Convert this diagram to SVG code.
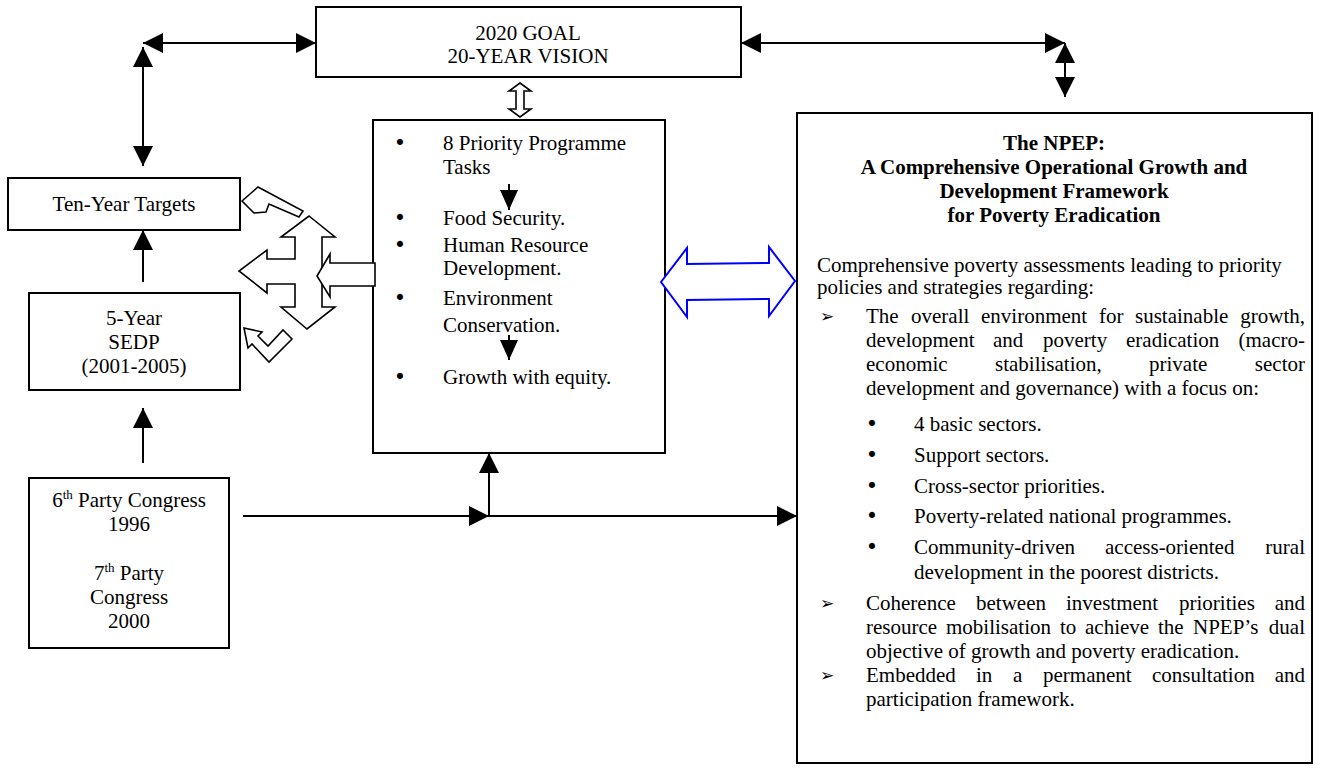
<svg xmlns="http://www.w3.org/2000/svg" width="1321" height="768" viewBox="0 0 1321 768">
<defs>
<style>
.box{fill:#fff;stroke:#000;stroke-width:2}
.t{font-family:"Liberation Serif","Times New Roman",serif;font-size:21px;fill:#000}
.c{text-anchor:middle}
.e{text-anchor:end}
.b{font-weight:bold}
.ln{stroke:#000;stroke-width:2;fill:none}
.hol{fill:#fff;stroke:#000;stroke-width:1.6;stroke-linejoin:miter}
.sym{font-family:"DejaVu Sans",sans-serif;font-size:17px;fill:#000}
.bul{font-family:"DejaVu Sans",sans-serif;font-size:21px;fill:#000;text-anchor:middle}
</style>
<marker id="ah" viewBox="0 0 20 20" refX="20" refY="10" markerWidth="20" markerHeight="20" markerUnits="userSpaceOnUse" orient="auto-start-reverse">
<path d="M0,0 L20,10 L0,20 z" fill="#000"/>
</marker>
<marker id="ahs" viewBox="0 0 20 18" refX="20" refY="9" markerWidth="20" markerHeight="18" markerUnits="userSpaceOnUse" orient="auto">
<path d="M0,0 L20,9 L0,18 z" fill="#000"/>
</marker>
</defs>
<rect width="1321" height="768" fill="#fff"/>

<g id="goal">
<rect class="box" x="316" y="7" width="425" height="70"/>
<text class="t c" x="528" y="40">2020 GOAL</text>
<text class="t c" x="528" y="63">20-YEAR VISION</text>
</g>

<g id="ten-year">
<rect class="box" x="8" y="178" width="232" height="52"/>
<text class="t c" x="124" y="211">Ten-Year Targets</text>
</g>

<g id="five-year">
<rect class="box" x="29" y="293" width="211" height="97"/>
<text class="t c" x="134" y="325">5-Year</text>
<text class="t c" x="134" y="349">SEDP</text>
<text class="t c" x="134" y="373">(2001-2005)</text>
</g>

<g id="congress">
<rect class="box" x="29" y="478" width="200" height="170"/>
<text class="t c" x="129" y="507">6<tspan font-size="13" dy="-8">th</tspan><tspan dy="8"> Party Congress</tspan></text>
<text class="t c" x="129" y="531">1996</text>
<text class="t c" x="129" y="580">7<tspan font-size="13" dy="-8">th</tspan><tspan dy="8"> Party</tspan></text>
<text class="t c" x="129" y="604">Congress</text>
<text class="t c" x="129" y="628">2000</text>
</g>

<g id="priority">
<rect class="box" x="373" y="120" width="292" height="333"/>
<text class="bul" x="400" y="150">•</text>
<text class="bul" x="400" y="225">•</text>
<text class="bul" x="400" y="252">•</text>
<text class="bul" x="400" y="305">•</text>
<text class="bul" x="400" y="384">•</text>
<g class="t">
<text x="443" y="150">8 Priority Programme</text>
<text x="443" y="174">Tasks</text>
<text x="443" y="225">Food Security.</text>
<text x="443" y="252">Human Resource</text>
<text x="443" y="275">Development.</text>
<text x="443" y="305">Environment</text>
<text x="443" y="332">Conservation.</text>
<text x="443" y="384">Growth with equity.</text>
</g>
<line class="ln" x1="509" y1="184" x2="509" y2="210" marker-end="url(#ahs)"/>
<line class="ln" x1="509" y1="335" x2="509" y2="360" marker-end="url(#ahs)"/>
</g>

<g id="npep">
<rect class="box" x="797" y="113" width="515" height="650"/>
<g class="t">
<text class="c b" x="1054" y="150">The NPEP:</text>
<text class="c b" x="1054" y="174">A Comprehensive Operational Growth and</text>
<text class="c b" x="1054" y="198">Development Framework</text>
<text class="c b" x="1054" y="222">for Poverty Eradication</text>
<text x="817" y="272">Comprehensive poverty assessments leading to priority</text>
<text x="817" y="294">policies and strategies regarding:</text>

<text x="866" y="323">The</text><text x="911" y="323">overall</text><text x="981" y="323">environment</text><text x="1099" y="323">for</text><text x="1135" y="323">sustainable</text><text class="e" x="1305" y="323">growth,</text>
<text x="866" y="347">development</text><text x="993" y="347">and</text><text x="1043" y="347">poverty</text><text x="1126" y="347">eradication</text><text class="e" x="1305" y="347">(macro-</text>
<text x="866" y="371">economic</text><text x="995" y="371">stabilisation,</text><text x="1149" y="371">private</text><text class="e" x="1305" y="371">sector</text>
<text x="866" y="395">development and governance) with a focus on:</text>

<text x="914" y="431">4 basic sectors.</text>
<text x="914" y="462">Support sectors.</text>
<text x="914" y="493">Cross-sector priorities.</text>
<text x="914" y="523">Poverty-related national programmes.</text>
<text x="914" y="554">Community-driven</text><text x="1105" y="554">access-oriented</text><text class="e" x="1305" y="554">rural</text>
<text x="914" y="579">development in the poorest districts.</text>

<text x="866" y="610">Coherence</text><text x="976" y="610">between</text><text x="1066" y="610">investment</text><text x="1179" y="610">priorities</text><text class="e" x="1305" y="610">and</text>
<text x="866" y="634">resource</text><text x="946" y="634">mobilisation</text><text x="1060" y="634">to</text><text x="1085" y="634">achieve</text><text x="1158" y="634">the</text><text x="1193" y="634">NPEP’s</text><text class="e" x="1305" y="634">dual</text>
<text x="866" y="658">objective of growth and poverty eradication.</text>
<text x="866" y="682">Embedded</text><text x="976" y="682">in</text><text x="1013" y="682">a</text><text x="1043" y="682">permanent</text><text x="1152" y="682">consultation</text><text class="e" x="1305" y="682">and</text>
<text x="866" y="706">participation framework.</text>
</g>
<text class="bul" x="872" y="431">•</text>
<text class="bul" x="872" y="462">•</text>
<text class="bul" x="872" y="493">•</text>
<text class="bul" x="872" y="523">•</text>
<text class="bul" x="872" y="554">•</text>
<text class="sym" x="820" y="322">➢</text>
<text class="sym" x="820" y="609">➢</text>
<text class="sym" x="820" y="681">➢</text>
</g>

<g id="connectors">
<line class="ln" x1="143" y1="43" x2="316" y2="43" marker-start="url(#ah)" marker-end="url(#ah)"/>
<line class="ln" x1="143" y1="47" x2="143" y2="166" marker-start="url(#ah)" marker-end="url(#ah)"/>
<line class="ln" x1="741" y1="43" x2="1065" y2="43" marker-start="url(#ah)" marker-end="url(#ah)"/>
<line class="ln" x1="1065" y1="43" x2="1065" y2="97" marker-start="url(#ah)" marker-end="url(#ah)"/>
<line class="ln" x1="143" y1="282" x2="143" y2="230" marker-end="url(#ah)"/>
<line class="ln" x1="143" y1="463" x2="143" y2="408" marker-end="url(#ah)"/>
<line class="ln" x1="243" y1="516" x2="489" y2="516" marker-end="url(#ah)"/>
<line class="ln" x1="489" y1="516" x2="797" y2="516" marker-end="url(#ah)"/>
<line class="ln" x1="489" y1="516" x2="489" y2="453" marker-end="url(#ah)"/>
<polygon class="hol" points="520,83 531,91 524,91 524,109 531,109 520,117 509,109 516,109 516,91 509,91"/>
<polygon points="661,282 687,248 687,264 769,263 769,247 795,281 769,316 769,299 687,300 687,317" fill="#fff" stroke="#0000ff" stroke-width="2"/>
<polygon class="hol" points="309,216 335,237 322,237 322,307 335,307 307,329 281,307 295,307 295,284 267,284 267,293 239,271 267,250 267,259 295,259 295,237 281,237"/>
<polygon class="hol" points="317,276 330,254 330,263 375,263 375,286 330,286 330,297"/>
<polygon class="hol" points="242,201 258,187 303,211 299,217 269,204 266,212 254,213"/>
<polygon class="hol" points="244,328 262,332 258,336 268,346 283,330 292,339 269,362 252,344 248,348"/>
</g>
</svg>
